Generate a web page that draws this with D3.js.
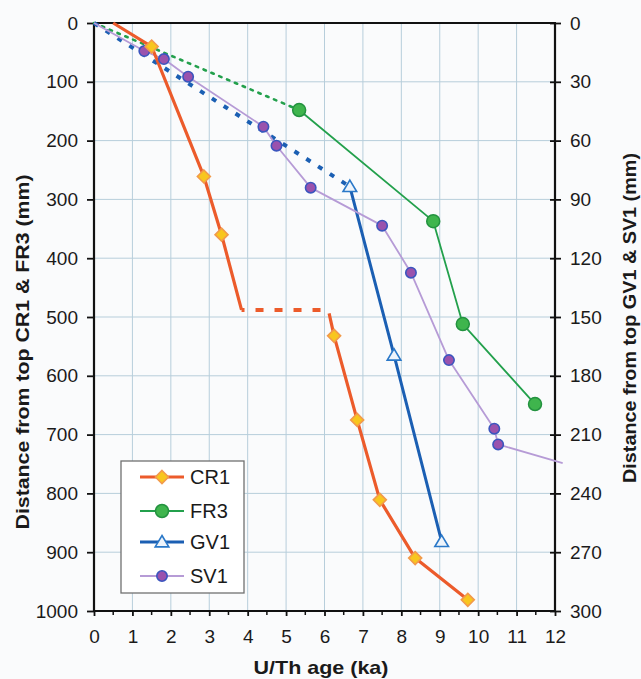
<!DOCTYPE html>
<html><head><meta charset="utf-8">
<script src="https://cdn.jsdelivr.net/npm/d3@7/dist/d3.min.js"></script>
<style>
html,body{margin:0;padding:0;background:#fafbfc;}
svg{display:block;font-family:"Liberation Sans",Arial,sans-serif;}
</style></head>
<body><svg id="c" width="641" height="679"></svg>
<script>
// ---- data (age in ka, depth in mm) ----
const xTicks = [0,1,2,3,4,5,6,7,8,9,10,11,12];
const leftTicks = [0,100,200,300,400,500,600,700,800,900,1000];
const rightTicks = [0,30,60,90,120,150,180,210,240,270,300];

// CR1 (left axis)
const cr1UpperAge   = [0.5, 1.5, 2.86, 3.32, 3.84];
const cr1UpperDepth = [0,   40,  261,  360,  488];
const cr1GapAge     = [3.84, 5.97];
const cr1GapDepth   = [488, 488];
const cr1LowerAge   = [6.12, 6.25, 6.85, 7.44, 8.36, 9.73];
const cr1LowerDepth = [494,  532,  675,  811,  910,  981];
const cr1MarkAge    = [1.5, 2.86, 3.32, 6.25, 6.85, 7.44, 8.36, 9.73];
const cr1MarkDepth  = [40,  261,  360,  532,  675,  811,  910,  981];

// FR3 (left axis)
const fr3Age   = [0, 5.34, 8.83, 9.6, 11.48];
const fr3Depth = [0, 148,  337,  512, 648];

// GV1 (right axis)
const gv1Age   = [0, 6.66, 7.81,  9.05];
const gv1Depth = [0, 83.5, 169.5, 264.6];

// SV1 (right axis)
const sv1Age   = [0, 1.31, 1.82, 2.45, 4.41, 4.75, 5.64, 7.5,   8.25,  9.24, 10.42, 10.52, 12.2];
const sv1Depth = [0, 14.3, 18.4, 27.4, 52.9, 62.6, 84,   103.4, 127.4, 172,  207,   215,   224.5];
const sv1MarkFrom = 1, sv1MarkTo = 11;

const legendNames = ["CR1","FR3","GV1","SV1"];

// ---- layout ----
const L = 94, R = 555, T = 23, B = 611;
const x = d3.scaleLinear().domain([0,12]).range([L,R]);
const yL = d3.scaleLinear().domain([0,1000]).range([T,B]);
const yR = d3.scaleLinear().domain([0,300]).range([T,B]);

const col = {cr1:"#ec5b2b", fr3:"#23a04c", gv1:"#1b5fb3", sv1:"#b69bd6"};

const svg = d3.select("#c");
const zip = (a,b)=>a.map((v,i)=>[v,b[i]]);

// grid
const g = svg.append("g");
g.selectAll("line.vg").data(xTicks.slice(1,-1)).join("line")
  .attr("x1",d=>x(d)).attr("x2",d=>x(d)).attr("y1",T).attr("y2",B)
  .attr("stroke","#b7cedb").attr("stroke-width",1);
g.selectAll("line.hg").data(leftTicks.slice(1,-1)).join("line")
  .attr("x1",L).attr("x2",R).attr("y1",d=>yL(d)).attr("y2",d=>yL(d))
  .attr("stroke","#b7cedb").attr("stroke-width",1);

// axes
const fontTick = 19;
const fmt = d3.format("d");
const axL = svg.append("g").attr("transform",`translate(${L},0)`)
  .call(d3.axisLeft(yL).tickValues(leftTicks).tickFormat(fmt).tickSize(7).tickPadding(9));
const axR = svg.append("g").attr("transform",`translate(${R},0)`)
  .call(d3.axisRight(yR).tickValues(rightTicks).tickFormat(fmt).tickSize(6).tickPadding(9));
axR.selectAll(".tick line").attr("x1",-5);
const axB = svg.append("g").attr("transform",`translate(0,${B})`)
  .call(d3.axisBottom(x).tickValues(xTicks).tickFormat(fmt).tickSize(5).tickPadding(14));
const minor = d3.range(0.5,12,1);
svg.append("g").selectAll("line").data(minor).join("line")
  .attr("x1",d=>x(d)).attr("x2",d=>x(d)).attr("y1",B).attr("y2",B+4)
  .attr("stroke","#111").attr("stroke-width",1.5);
[axL,axR,axB].forEach(a=>{
  a.select(".domain").attr("stroke","#111").attr("stroke-width",2.2);
  a.selectAll(".tick line").attr("stroke","#111").attr("stroke-width",1.8);
  a.selectAll(".tick text").attr("font-size",fontTick).attr("fill","#1a1a1a")
   .attr("font-family","Liberation Sans, Arial, sans-serif");
});
axL.select(".domain").attr("d",`M0,${T}V${B}`);
axR.select(".domain").attr("d",`M0,${T}V${B}`);
axB.select(".domain").attr("d",`M${L},0H${R}`);
// top border
svg.append("line").attr("x1",L-1).attr("x2",R+1).attr("y1",T).attr("y2",T)
  .attr("stroke","#111").attr("stroke-width",2.2);

// axis titles
svg.append("text").attr("x",321).attr("y",674).attr("text-anchor","middle")
  .attr("font-size",19).attr("font-weight","bold").attr("fill","#1a1a1a")
  .attr("textLength",135).attr("lengthAdjust","spacingAndGlyphs")
  .text("U/Th age (ka)");
svg.append("text").attr("transform","translate(29,352) rotate(-90)").attr("text-anchor","middle")
  .attr("font-size",19).attr("font-weight","bold").attr("fill","#1a1a1a")
  .attr("textLength",355).attr("lengthAdjust","spacingAndGlyphs")
  .text("Distance from top CR1 & FR3 (mm)");
svg.append("text").attr("transform","translate(636,318) rotate(-90)").attr("text-anchor","middle")
  .attr("font-size",18).attr("font-weight","bold").attr("fill","#1a1a1a")
  .attr("textLength",330).attr("lengthAdjust","spacingAndGlyphs")
  .text("Distance from top GV1 & SV1 (mm)");

// lines
const lineL = d3.line().x(d=>x(d[0])).y(d=>yL(d[1]));
const lineR = d3.line().x(d=>x(d[0])).y(d=>yR(d[1]));
const P = svg.append("g").attr("fill","none").attr("stroke-linejoin","round");

// FR3
const fr3 = zip(fr3Age,fr3Depth);
P.append("path").attr("d",lineL(fr3.slice(0,2))).attr("stroke",col.fr3)
  .attr("stroke-width",2.6).attr("stroke-dasharray","2.5 6").attr("stroke-linecap","round");
P.append("path").attr("d",lineL(fr3.slice(1))).attr("stroke",col.fr3).attr("stroke-width",1.8);

// GV1
const gv1 = zip(gv1Age,gv1Depth);
P.append("path").attr("d",lineR(gv1.slice(0,2))).attr("stroke",col.gv1)
  .attr("stroke-width",4).attr("stroke-dasharray","5 9");
P.append("path").attr("d",lineR(gv1.slice(1))).attr("stroke",col.gv1).attr("stroke-width",3);

// SV1
const sv1 = zip(sv1Age,sv1Depth);
P.append("path").attr("d",lineR(sv1)).attr("stroke",col.sv1).attr("stroke-width",1.8);

// CR1
P.append("path").attr("d",lineL(zip(cr1UpperAge,cr1UpperDepth))).attr("stroke",col.cr1).attr("stroke-width",3.2);
P.append("path").attr("d",lineL(zip(cr1GapAge,cr1GapDepth))).attr("stroke",col.cr1)
  .attr("stroke-width",4).attr("stroke-dasharray","8 11").attr("stroke-dashoffset",-14);
P.append("path").attr("d",lineL(zip(cr1LowerAge,cr1LowerDepth))).attr("stroke",col.cr1).attr("stroke-width",3.2);

// markers
const diamond = (s)=>`M0,${-s}L${s},0L0,${s}L${-s},0Z`;
const tri = (s)=>`M0,${-s}L${s*1.05},${s*0.75}L${-s*1.05},${s*0.75}Z`;
const M = svg.append("g");
M.selectAll("circle.sv").data(sv1.slice(sv1MarkFrom,sv1MarkTo+1)).join("circle")
  .attr("cx",d=>x(d[0])).attr("cy",d=>yR(d[1])).attr("r",5.2)
  .attr("fill","#9a52ad").attr("stroke","#3b55be").attr("stroke-width",1.6);
M.selectAll("path.gv").data(gv1.slice(1)).join("path")
  .attr("transform",d=>`translate(${x(d[0])},${yR(d[1])})`).attr("d",tri(6.5))
  .attr("fill","#eef4fb").attr("stroke","#2a78c8").attr("stroke-width",1.6);
M.selectAll("circle.fr").data(fr3.slice(1)).join("circle")
  .attr("cx",d=>x(d[0])).attr("cy",d=>yL(d[1])).attr("r",6.5)
  .attr("fill","#3fb54d").attr("stroke","#23923f").attr("stroke-width",1.5);
M.selectAll("path.cr").data(zip(cr1MarkAge,cr1MarkDepth)).join("path")
  .attr("transform",d=>`translate(${x(d[0])},${yL(d[1])})`).attr("d",diamond(6.5))
  .attr("fill","#f8c61e").attr("stroke","#f29a4a").attr("stroke-width",1.6);

// legend
const lg = svg.append("g").attr("transform","translate(121,461)");
lg.append("rect").attr("width",123).attr("height",132).attr("fill","#fff")
  .attr("stroke","#707070").attr("stroke-width",1.3);
const ly = [16,50,81,115];
legendNames.forEach((n,i)=>{
  const e = lg.append("g").attr("transform",`translate(0,${ly[i]})`);
  const c = [col.cr1,col.fr3,col.gv1,col.sv1][i];
  e.append("line").attr("x1",19).attr("x2",63).attr("stroke",c)
    .attr("stroke-width",[3.2,1.8,3,1.8][i]);
  if(i===0) e.append("path").attr("transform","translate(41,0)").attr("d",diamond(6.5))
    .attr("fill","#f8c61e").attr("stroke","#f29a4a").attr("stroke-width",1.6);
  if(i===1) e.append("circle").attr("cx",41).attr("r",6.5).attr("fill","#3fb54d").attr("stroke","#23923f").attr("stroke-width",1.5);
  if(i===2) e.append("path").attr("transform","translate(41,0)").attr("d",tri(6.5))
    .attr("fill","#eef4fb").attr("stroke","#2a78c8").attr("stroke-width",1.6);
  if(i===3) e.append("circle").attr("cx",41).attr("r",5.2).attr("fill","#9a52ad").attr("stroke","#3b55be").attr("stroke-width",1.6);
  e.append("text").attr("x",69).attr("y",7).attr("font-size",20).attr("fill","#1a1a1a").text(n);
});
</script></body></html>
